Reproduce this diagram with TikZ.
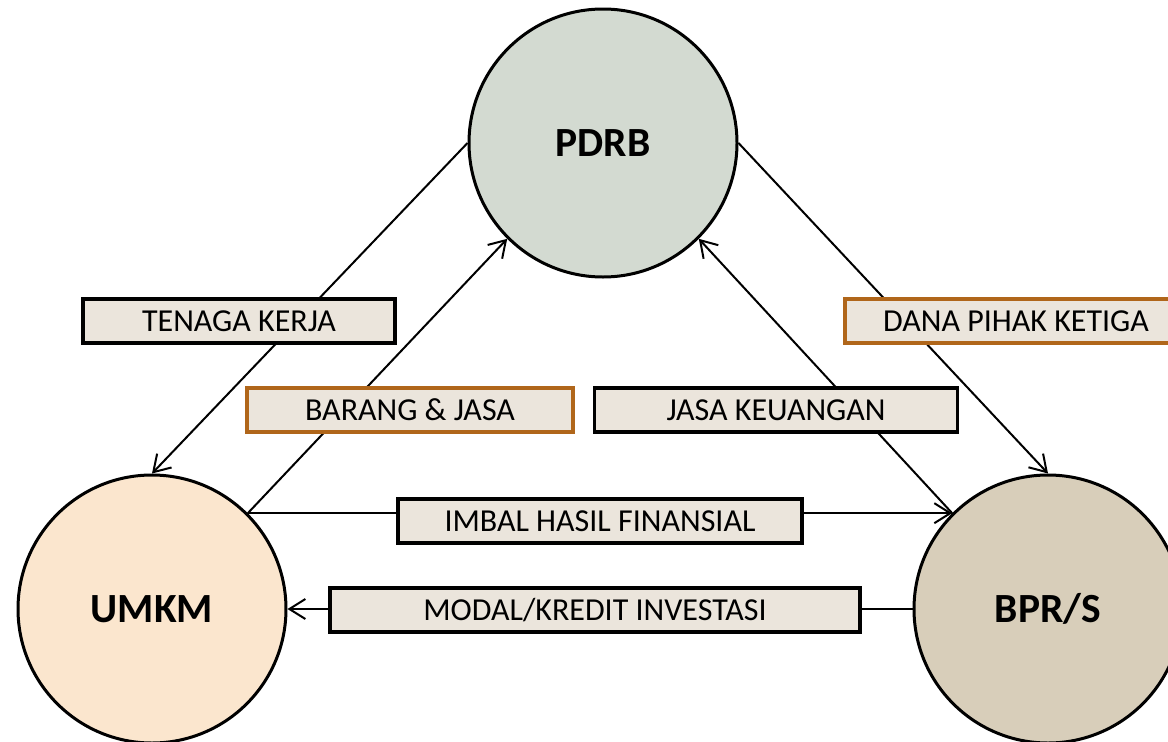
\documentclass[tikz,border=0pt]{standalone}
\usepackage{fontspec}
\setmainfont{Carlito}
\usepackage{xcolor}
\usetikzlibrary{arrows.meta, positioning}

\definecolor{pdrbfill}{RGB}{211,218,209}
\definecolor{umkmfill}{RGB}{251,230,206}
\definecolor{bprsfill}{RGB}{216,206,186}
\definecolor{boxfill}{RGB}{235,229,220}
\definecolor{boxbrown}{RGB}{176,102,26}

\begin{document}
\begin{tikzpicture}[x=1pt, y=-1pt, line width=2pt, >={Straight Barb[length=16pt,width=20pt]},
        circ/.style={draw, circle, line width=3pt, minimum size=268pt, inner sep=0pt, font=\fontsize{41.5}{50}\selectfont\bfseries},
        lbl/.style={draw, rectangle, line width=3.5pt, fill=boxfill, minimum height=44pt, inner sep=0pt, font=\fontsize{32}{38}\selectfont}]
        \useasboundingbox (0,0) rectangle (1168,742);

        % Nodes
        \node[circ, fill=pdrbfill] (pdrb) at (603,143) {PDRB};
        \node[circ, fill=umkmfill] (umkm) at (152,609) {UMKM};
        \node[circ, fill=bprsfill] (bprs) at (1048,609) {BPR/S};

        % Pijlen
        \draw[->] (pdrb.west) -- (umkm.north);
        \draw[->] (umkm.north east) -- (pdrb.south west);
        \draw[->] (bprs.north west) -- (pdrb.south east);
        \draw[->] (pdrb.east) -- (bprs.north);
        \draw[->] (umkm.north east) -- (bprs.north west);
        \draw[->] (bprs.west) -- (umkm.east);

        % Labels
        \node[lbl, minimum width=312pt] (tenaga) at (239,321) {TENAGA KERJA};
        \node[lbl, draw=boxbrown, minimum width=326pt] (barang) at (410,410) {BARANG \& JASA};
        \node[lbl, minimum width=363pt] (jasa) at (776,410) {JASA KEUANGAN};
        \node[lbl, draw=boxbrown, minimum width=342pt] (dana) at (1016,321) {DANA PIHAK KETIGA};
        \node[lbl, minimum width=404pt] (imbal) at (600,521) {IMBAL HASIL FINANSIAL};
        \node[lbl, minimum width=530pt] (modal) at (595,610) {MODAL/KREDIT INVESTASI};
\end{tikzpicture}
\end{document}
